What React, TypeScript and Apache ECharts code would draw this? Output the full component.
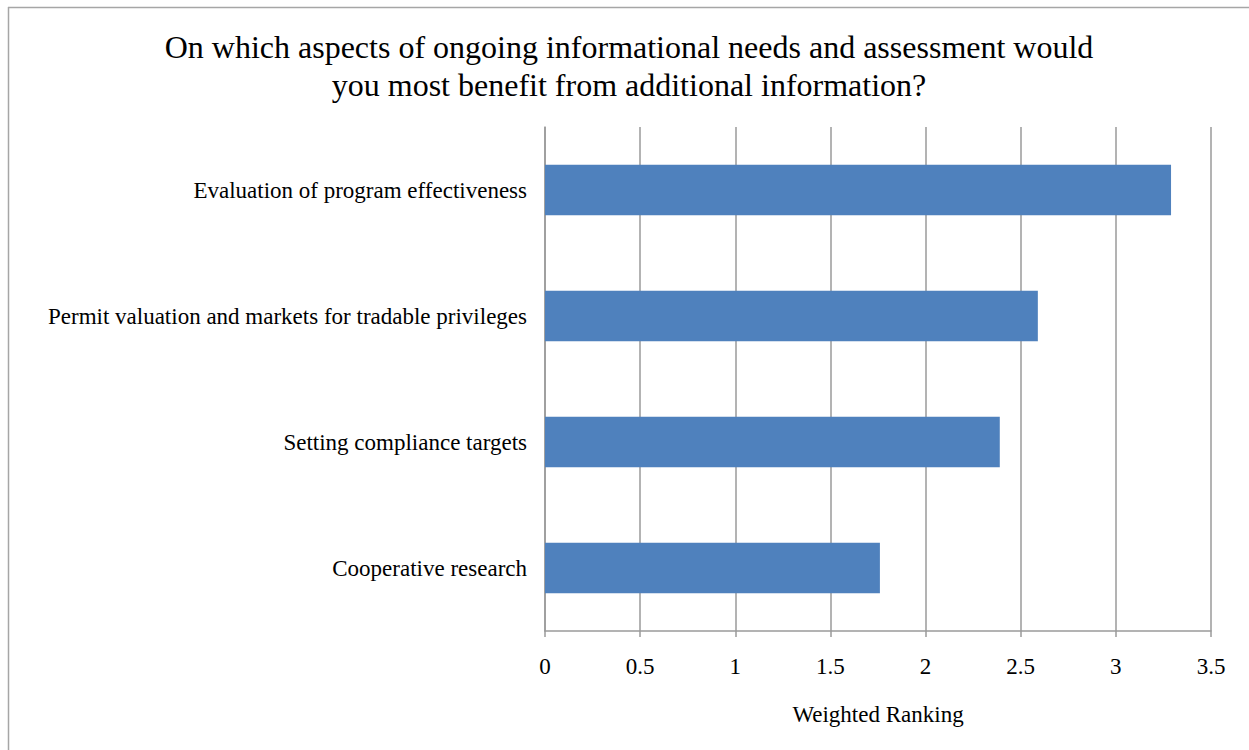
import React, { useEffect, useRef } from "react";
import * as echarts from "echarts";

const categories = [
  "Cooperative research",
  "Setting compliance targets",
  "Permit valuation and markets for tradable privileges",
  "Evaluation of program effectiveness",
];
const values = [1.76, 2.39, 2.59, 3.29];
const titleLines = [
  "On which aspects of ongoing informational needs and assessment would",
  "you most benefit from additional information?",
];
const axisName = "Weighted Ranking";

export default function App() {
  const ref = useRef<HTMLDivElement>(null);
  useEffect(() => {
    if (!ref.current) return;
    const chart = echarts.init(ref.current, null, { renderer: "svg" });
    const font = "Liberation Serif";
    chart.setOption({
      animation: false,
      backgroundColor: "#ffffff",
      textStyle: { fontFamily: font },
      graphic: [
        { type: "line", shape: { x1: 8, y1: 7.5, x2: 1249, y2: 7.5 }, style: { stroke: "#a6a6a6", lineWidth: 1.5 } },
        { type: "line", shape: { x1: 8.5, y1: 7, x2: 8.5, y2: 750 }, style: { stroke: "#a6a6a6", lineWidth: 1.5 } },
        {
          type: "text",
          x: 629,
          y: 47,
          style: {
            text: titleLines[0],
            fontFamily: font,
            fontSize: 32,
            fill: "#000",
            align: "center",
            verticalAlign: "middle",
          },
        },
        {
          type: "text",
          x: 629,
          y: 85,
          style: {
            text: titleLines[1],
            fontFamily: font,
            fontSize: 32,
            fill: "#000",
            align: "center",
            verticalAlign: "middle",
          },
        },
      ],
      grid: { left: 545, right: 38, top: 127, bottom: 119, containLabel: false },
      xAxis: {
        type: "value",
        min: 0,
        max: 3.5,
        interval: 0.5,
        name: axisName,
        nameLocation: "middle",
        nameGap: 72,
        nameTextStyle: { fontSize: 23, color: "#000", fontFamily: font },
        axisLine: { show: true, lineStyle: { color: "#9a9a9a", width: 1.5 } },
        axisTick: { show: true, length: 6, lineStyle: { color: "#9a9a9a", width: 1.5 } },
        axisLabel: { fontSize: 23, color: "#000", margin: 24, fontFamily: font },
        splitLine: { show: true, lineStyle: { color: "#9a9a9a", width: 1.5 } },
      },
      yAxis: {
        type: "category",
        data: categories,
        axisLine: { show: true, lineStyle: { color: "#9a9a9a", width: 1.5 } },
        axisTick: { show: false },
        axisLabel: { fontSize: 23, color: "#000", margin: 18, fontFamily: font },
      },
      series: [
        {
          type: "bar",
          data: values,
          barWidth: "40%",
          itemStyle: { color: "#4f81bd" },
        },
      ],
    });
    return () => chart.dispose();
  }, []);
  return (
    <div
      ref={ref}
      style={{ position: "fixed", left: 0, top: 0, width: 1249, height: 750 }}
    />
  );
}
